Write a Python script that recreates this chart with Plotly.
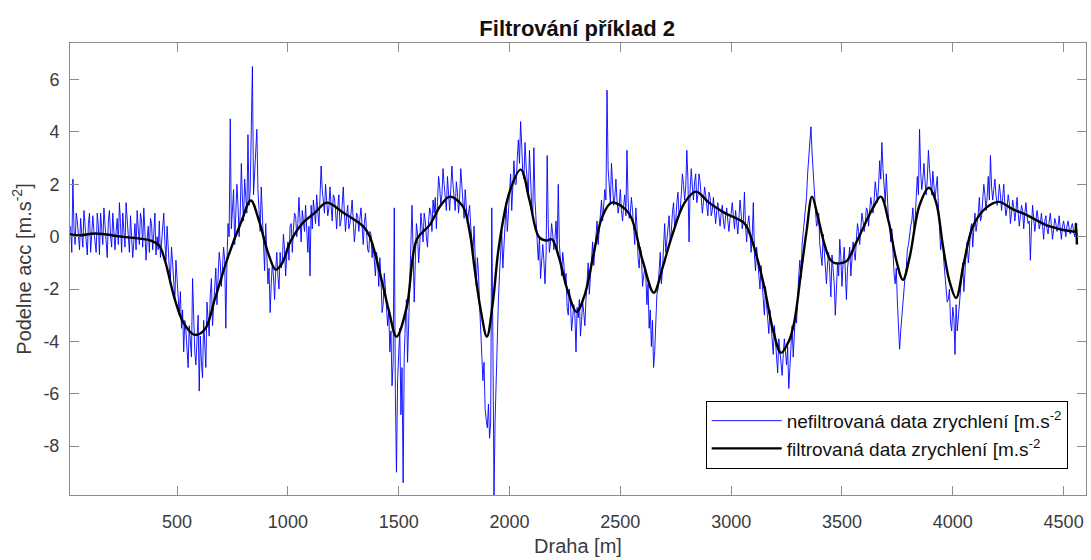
import plotly.graph_objects as go

# ---------------- data ----------------
# unfiltered acceleration, sampled every 10 m starting at 20 m
raw_start_a = 20
raw_acc_a = [
    0.4, 2.2, -0.3, 0.6, -0.5, 0.2, 1.0, -0.2, 0.5, -0.6,
    0.8, -0.1, 0.9, -0.7, 0.3, 1.1, -0.4, 0.6, 0.0, 0.9,
    -0.5, 0.7, 1.3, -0.6, 0.4, 1.3, -0.2, 0.8, -0.8, 0.5,
    1.0, -0.3, 0.6, 1.1, -0.9, 0.4, 0.7, -0.5, 0.9, 0.0,
    0.6, -0.3, 0.9, -0.9, -0.6, -1.6, -1.0, -2.4, -1.8, -3.0,
    -3.5, -4.4, -3.6, -5.0, -3.9, -1.6, -4.4, -3.7, -5.9, -4.8,
    -3.2, -5.0, -3.0, -2.2, -3.4, -1.8, -2.6, -0.6, -1.9, -0.4,
    -3.5, 0.5, 4.5, 1.2, -0.3, 2.0, 0.0, 2.8, 0.6, 1.5,
    3.9, 1.8, 6.5, 2.5, 4.1, 0.8, 1.9, -0.8, 0.5, -1.8,
    -2.9, -1.0, -2.4, -0.6, -2.0, -1.2, 0.1, -1.5, -0.2, 0.4,
    -0.6, 0.9, 0.0, 1.5, -0.2, 0.6, 1.2, -0.6, -1.5, 0.3,
    0.9, 1.6, 0.4, 2.7, 1.2, 2.0, 0.8, 1.9, 0.6, 1.5,
    0.3, 1.6, 0.6, 1.9, 0.2, 1.2, 0.5, 1.4, -0.2, 0.9,
    0.2, 1.1, -0.3, 0.9, -0.5, 0.2, -0.8, -1.2, -0.6, -1.9,
    -1.6, -2.6, -2.0, -3.4, -4.4, -5.7, 1.1, -9.0, -4.2, -6.8,
    -9.4, -3.3, -4.8, -2.0, 1.2, -2.5, 0.5, -1.0, 0.9, -0.2,
    0.6, -0.4, 1.1, 0.2, 0.9, 0.3, 2.3, 1.2, 2.6, 1.5,
    2.3, 1.0, 2.7, 1.4, 2.1, 0.9, 2.6, 1.1, 1.8, 0.5,
    1.2, -0.3, 0.4, -1.9, -1.4, -3.4, -5.5, -6.6, -7.3, -7.7,
    1.1, -9.87, -5.2, -2.4, -0.4, -1.2, 0.9, 0.2, 1.7, 1.0,
    2.9, 2.0, 3.7, 4.4, 2.4, 3.6, 1.9, 3.3, 1.2, 3.4,
    0.3, -0.9, -1.6, -0.3, -1.8, 3.1, -0.6, 0.5, -0.5, 0.6,
    2.0, -1.0, -0.6, -1.8, -2.7, -2.0, -3.6, -2.6, -4.4, -3.1,
    -3.8, -2.5, -3.4, -1.5, -2.2, -0.6, -1.1, 0.4, -0.3, 1.2,
    0.6, 1.8, 5.6, 1.9, 2.8, 1.2, 2.2, 0.9, 1.8, 0.6,
    1.6, 3.3, 0.7, 1.5, 0.3, 1.1, -0.8, -0.4, -1.9, -1.2,
    -2.6, -3.5, -4.2, -5.0, -3.3, -2.0, -0.6, -1.3, 0.5, -0.2,
    0.8, 0.2, 1.3, 0.6, 1.7, 1.0, 2.4, 1.4, 3.3, -0.2,
    2.6, 1.4, 2.4, 1.6, 2.1, 0.9, 1.9, 1.1, 1.7, 0.8,
    1.5, 0.5, 1.3, 0.4, 1.2, 0.3, 1.1, 0.2, 0.9, 0.6,
    1.0, 0.1, 1.4, 0.3, 1.7, -0.2, 0.8, -0.6, 1.3, -1.3,
    -1.0, -2.0, -1.6, -3.0, -2.6, -3.7, -3.3, -4.5, -4.0, -5.2,
    -4.4, -5.3, -3.9, -4.9, -5.8, -4.0, -4.6, -2.9, -2.2, -0.9,
    -0.3, 0.8, 1.5, 3.0, 4.2, 2.6, 1.2, 0.5, -0.3, -1.1,
    -0.5, -1.8, -0.6, -2.3, -1.2, -3.0, -1.0, -0.1, -1.9, -0.4,
    -2.4, -0.8, -1.5, -0.2, -0.9, 0.5, -0.3, 0.9, 0.2, 1.1,
    0.4, 1.5, 0.9, 2.1, 1.3, 2.9, 3.6, 1.8, 2.4, 0.6,
    -0.2, -0.9, -1.8, -2.5, -4.3, -3.0, -2.0, -1.2, -0.3, 0.4,
    1.1, 0.6, 2.3, 4.1, 1.8, 2.8, 1.6, 3.3, 1.9, 2.5,
    1.4, 2.3, 0.5, 0.0, -1.0, -1.8, -2.4, -3.3, -2.7, -4.5,
    -3.6, -2.6, -1.5, -2.1, -0.6, -1.0, 0.3, -0.4, 0.9, 0.5,
    1.5, 0.8, 2.0, 1.0, 2.3, 3.1, 1.4, 2.2, 1.2, 2.0,
    1.0, 2.0, 0.8, 1.6, 0.5, 1.4, 0.6, 1.5, 0.4, 1.2,
    0.3, 1.3, 0.5, -0.9, 1.2, 0.2, 1.0, 0.3, 0.9, -0.1,
    0.8, 0.1, 0.9, -0.1, 0.7, 0.2, 0.8, -0.1, 0.6, 0.0,
    0.6, 0.1, 0.5, 0.0, 0.5,
]
# unfiltered acceleration, the in-between samples (every 10 m starting at 25 m)
raw_start_b = 25
raw_acc_b = [
    -0.6, 0.3, 0.9, -0.2, 0.7, -0.4, 0.4, -0.7, 0.9, 0.1,
    0.2, -0.6, 0.4, 0.9, -0.3, 0.5, -0.8, 1.0, -0.4, 0.3,
    0.2, -0.3, 0.5, 0.9, -0.4, 0.6, -0.6, 0.2, -0.2, -0.5,
    0.3, 0.9, -0.4, 0.2, -0.1, -0.6, 0.5, 0.1, -0.7, -0.5,
    -0.8, 0.2, -0.2, 0.4, -1.2, -0.4, -1.9, -0.9, -2.6, -2.1,
    -2.8, -3.2, -4.3, -3.4, -4.6, -3.3, -4.9, -3.0, -3.8, -5.4,
    -4.1, -2.5, -3.8, -1.6, -2.6, -1.2, -1.5, -1.0, -1.2, -0.9,
    -1.0, 0.0, 0.3, 1.8, 0.6, 1.2, 0.9, 1.4, 2.2, 0.9,
    1.2, 3.8, 1.6, 3.0, 1.8, 0.2, 0.6, -1.3, -0.6, -1.2,
    -1.8, -1.5, -1.3, -1.5, -0.6, -1.0, -0.5, -0.7, -0.9, 0.5,
    0.3, 0.8, 0.5, 0.6, 1.0, 0.2, 0.5, 0.4, 1.2, 1.4,
    0.5, 1.0, 1.5, 1.8, 0.9, 1.4, 1.1, 1.2, 1.6, 1.0,
    1.1, 0.4, 1.2, 0.9, 0.8, 0.3, 0.9, 0.6, 0.3, 0.8,
    0.7, 0.4, 0.5, 0.2, -0.6, 0.1, -0.3, -1.5, -0.9, -0.8,
    -2.9, -1.4, -2.7, -2.8, -3.6, -4.8, -6.0, -5.5, -3.5, -5.0,
    -4.6, -2.4, -3.1, -0.6, -0.5, -0.9, 0.1, -0.3, 0.4, 0.9,
    0.0, 0.6, 0.9, 1.4, 1.5, 1.3, 1.9, 1.6, 2.0, 1.0,
    1.6, 1.8, 2.0, 1.0, 1.7, 1.5, 1.9, 0.7, 1.3, 0.9,
    0.4, -0.6, -1.2, -0.8, -2.6, -4.6, -4.8, -7.0, -6.4, -7.1,
    -4.0, -7.0, -3.8, -1.4, 0.2, -0.2, 1.3, 0.8, 2.4, 2.0,
    2.0, 3.0, 2.8, 3.5, 2.2, 2.7, 1.6, 2.2, 0.9, 1.4,
    -0.2, 0.0, -1.0, -0.9, -0.7, 0.4, -0.2, 0.1, -0.1, -0.5,
    -0.3, -1.5, -1.0, -1.4, -3.0, -2.5, -3.2, -3.0, -2.7, -2.4,
    -3.2, -2.9, -2.4, -1.0, -1.6, -0.2, -0.5, 0.6, 0.3, 1.4,
    1.2, 1.4, 2.6, 1.3, 1.8, 1.5, 1.4, 1.2, 1.0, 1.2,
    0.8, 1.4, 0.9, 1.0, -0.3, 0.4, -1.2, -0.6, -1.6, -1.5,
    -1.8, -2.8, -3.2, -4.4, -2.2, -1.4, -1.8, -0.4, -0.6, 0.4,
    -0.2, 0.9, 0.4, 1.3, 0.8, 1.6, 2.0, 1.9, 2.2, 1.8,
    1.9, 2.1, 1.3, 2.4, 1.5, 1.3, 1.6, 0.8, 1.5, 1.0,
    0.9, 1.0, 0.8, 0.9, 0.6, 0.8, 0.6, 0.7, 1.3, 0.3,
    0.6, 0.7, 0.9, 0.6, 0.4, 0.5, 0.2, 0.0, -0.7, -0.4,
    -1.8, -1.1, -2.4, -1.9, -3.2, -2.8, -3.8, -3.4, -4.6, -3.9,
    -4.9, -4.5, -4.4, -4.2, -5.0, -3.4, -3.8, -3.3, -1.5, -1.6,
    0.2, 1.0, 2.4, 3.4, 3.2, 1.8, 0.4, 0.9, -0.8, 0.1,
    -1.3, -1.0, -1.4, -0.7, -1.8, -1.6, -1.5, -0.8, -1.0, -1.3,
    -1.2, -0.4, -0.9, -0.6, -0.1, 0.2, 0.3, 0.6, 0.5, 1.0,
    1.0, 1.2, 1.4, 1.7, 1.9, 2.2, 2.6, 1.3, 1.5, 0.5,
    0.3, -1.4, -1.2, -3.2, -3.6, -2.4, -1.5, -0.5, 0.1, 0.6,
    0.3, 1.5, 1.6, 2.5, 2.2, 2.1, 2.2, 2.6, 1.6, 1.8,
    1.9, 1.2, -0.5, -0.3, -1.5, -2.5, -2.0, -3.6, -3.1, -2.6,
    -3.0, -2.2, -1.0, -1.2, -0.2, -0.5, 0.5, 0.3, 0.2, 0.9,
    0.6, 1.3, 1.6, 1.5, 1.4, 1.9, 1.8, 1.6, 1.4, 1.6,
    1.5, 1.2, 1.1, 1.3, 0.9, 1.1, 1.0, 0.9, 0.8, 1.0,
    0.9, 0.8, 0.6, 0.4, 0.7, 0.6, 0.7, 0.5, 0.4, 0.6,
    0.3, 0.6, 0.4, 0.3, 0.5, 0.4, 0.3, 0.4, 0.3, 0.4,
    0.3, 0.4, 0.2, 0.3,
]

# filtered acceleration (key points of the smooth black curve)
filt_dist = [17, 60, 130, 250, 382, 420, 445, 490, 530, 580, 625, 670, 730, 788, 833,
             870, 910, 945, 975, 1009, 1068, 1120, 1176, 1249, 1339, 1370, 1415, 1455,
             1490, 1536, 1582, 1640, 1690, 1731, 1790, 1820, 1843, 1870, 1898, 1925,
             1952, 2000, 2051, 2090, 2132, 2165, 2191, 2222, 2260, 2303, 2340, 2386,
             2420, 2462, 2538, 2600, 2651, 2690, 2732, 2790, 2841, 2900, 2968, 3058,
             3080, 3103, 3149, 3190, 3225, 3260, 3284, 3315, 3340, 3365, 3390, 3419,
             3445, 3465, 3518, 3560, 3599, 3640, 3675, 3710, 3745, 3775, 3805, 3850,
             3893, 3925, 3956, 3985, 4015, 4050, 4091, 4150, 4208, 4270, 4330, 4434,
             4540, 4552, 4556, 4560]
filt_acc = [0.10, 0.05, 0.12, 0.0, -0.15, -0.35, -0.9, -2.4, -3.3, -3.75, -3.55, -2.4,
            -0.77, 0.53, 1.38, 0.6, -0.6, -1.26, -1.0, -0.23, 0.53, 0.9, 1.3, 0.92, 0.4,
            0.0, -1.38, -2.8, -3.82, -2.7, -0.1, 0.45, 1.2, 1.53, 1.15, 0.2, -1.26, -2.8,
            -3.82, -2.5, -0.38, 1.7, 2.56, 1.4, 0.0, -0.15, -0.1, -0.76, -2.0, -2.87,
            -2.2, -0.38, 0.8, 1.3, 0.9, -0.9, -2.14, -1.2, 0.0, 1.3, 1.72, 1.3, 0.92,
            0.53, 0.2, -0.38, -1.9, -3.6, -4.44, -4.0, -3.3, -1.38, 0.2, 1.53, 0.8,
            -0.23, -0.85, -1.0, -0.95, -0.3, 0.4, 1.1, 1.53, 0.6, -0.9, -1.65, -0.8,
            1.2, 1.87, 1.3, -0.38, -1.7, -2.34, -1.0, 0.4, 1.1, 1.33, 1.05, 0.84, 0.4,
            0.2, 0.2, 0.5, -0.3]

x_ticks = [500, 1000, 1500, 2000, 2500, 3000, 3500, 4000, 4500]
y_ticks = [-8, -6, -4, -2, 0, 2, 4, 6]
x_range = [17, 4601]
y_range = [-9.87, 7.4]

title_text = "Filtrování příklad 2"
x_label = "Draha [m]"
y_label = "Podelne acc [m.s<sup>-2</sup>]"
legend_raw = "nefiltrovaná data zrychlení [m.s<sup>-2</sup>"
legend_filt = "filtrovaná data zrychlení [m.s<sup>-2</sup>"

# merge the two sample sets into one ordered series
pairs = [(raw_start_a + 10 * i, v) for i, v in enumerate(raw_acc_a)] + \
        [(raw_start_b + 10 * i, v) for i, v in enumerate(raw_acc_b)]
pairs.sort()
raw_dist = [p[0] for p in pairs]
raw_acc = [p[1] for p in pairs]

# ---------------- figure ----------------
FONT = "Liberation Sans, Arial, Helvetica, sans-serif"
AXC = "#8c8c8c"
TXT = "#3a3a3a"

fig = go.Figure()
fig.add_trace(go.Scatter(x=raw_dist, y=raw_acc, mode="lines", name=legend_raw,
                         line=dict(color="#0000ff", width=0.9)))
fig.add_trace(go.Scatter(x=filt_dist, y=filt_acc, mode="lines", name=legend_filt,
                         line=dict(color="#000000", width=2.4, shape="spline", smoothing=1.0)))

axis_common = dict(showline=True, linecolor=AXC, linewidth=1, mirror="ticks",
                   ticks="inside", ticklen=9, tickcolor=AXC, tickwidth=1,
                   showgrid=False, zeroline=False,
                   tickfont=dict(family=FONT, size=18, color=TXT))

fig.update_xaxes(range=x_range, tickvals=x_ticks, ticktext=[str(v) for v in x_ticks],
                 ticklabelstandoff=10, automargin=False,
                 title=dict(text=x_label, font=dict(family=FONT, size=20, color=TXT), standoff=8),
                 **axis_common)
fig.update_yaxes(range=y_range, tickvals=y_ticks, ticktext=[str(v) for v in y_ticks],
                 ticklabelstandoff=6, automargin=False,
                 title=dict(text=y_label, font=dict(family=FONT, size=20, color=TXT), standoff=6),
                 **axis_common)

fig.update_layout(
    width=1091, height=560,
    margin=dict(l=70, r=5, t=43, b=65),
    paper_bgcolor="white", plot_bgcolor="white",
    title=dict(text="<b>" + title_text + "</b>", x=0.529, xanchor="center",
               y=1 - 28 / 560, yanchor="middle",
               font=dict(family=FONT, size=22, color="#111111")),
    showlegend=True,
    legend=dict(x=0.982, y=0.058, xanchor="right", yanchor="bottom",
                bgcolor="white", bordercolor="#000000", borderwidth=1,
                font=dict(family=FONT, size=19, color="#111111"),
                itemwidth=70, tracegroupgap=0),
)

fig.write_html("out.html")
